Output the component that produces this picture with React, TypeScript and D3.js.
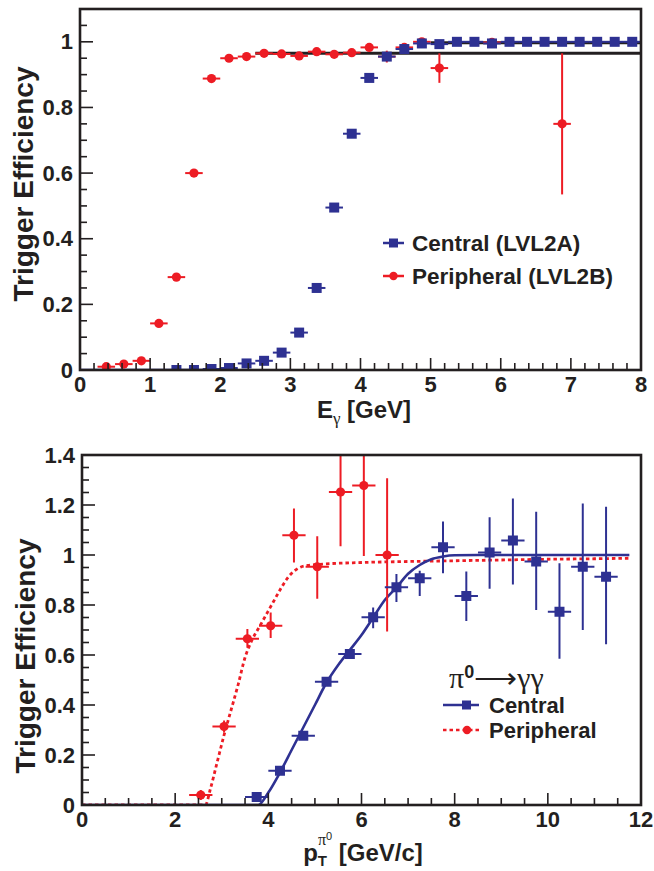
import React, { useEffect, useRef } from 'react';
import * as d3 from 'd3';

const BLUE = '#2e3192';
const RED = '#ed1c24';
const INK = '#231f20';
const SANS = '"Liberation Sans", Arial, Helvetica, sans-serif';
const SERIF = '"Liberation Serif", "Times New Roman", serif';

// ---- top panel: single photon trigger vs E_gamma ----
const topCentralE = [1.375, 1.625, 1.875, 2.125, 2.375, 2.625, 2.875, 3.125, 3.375, 3.625, 3.875, 4.125, 4.375, 4.625,
  4.875, 5.125, 5.375, 5.625, 5.875, 6.125, 6.375, 6.625, 6.875, 7.125, 7.375, 7.625, 7.875];
const topCentralEff = [0, 0, 0.003, 0.006, 0.02, 0.028, 0.053, 0.114, 0.25, 0.495, 0.72, 0.89, 0.955, 0.978,
  0.995, 0.993, 1, 1, 0.995, 1, 1, 1, 1, 1, 1, 1, 1];

const topPeriphE = [0.375, 0.625, 0.875, 1.125, 1.375, 1.625, 1.875, 2.125, 2.375, 2.625, 2.875, 3.125, 3.375, 3.625,
  3.875, 4.125, 4.375, 4.625, 4.875, 5.125, 5.875, 6.875];
const topPeriphEff = [0.01, 0.018, 0.028, 0.142, 0.283, 0.6, 0.888, 0.95, 0.955, 0.965, 0.963, 0.957, 0.97, 0.962,
  0.967, 0.983, 0.955, 0.983, 1.0, 0.92, 0.998, 0.75];
const topPeriphErr = [0.003, 0.004, 0.005, 0.006, 0.008, 0.01, 0.008, 0.005, 0.005, 0.005, 0.005, 0.005, 0.005, 0.006,
  0.007, 0.008, 0.018, 0.01, 0.01, 0.045, 0.01, 0.215];

// plateau fits [from, to, level]
const topPlateaus: [number, number, number][] = [[2.5, 8, 0.965], [5.0, 8, 0.997]];
const topCentralZero = [0, 2.25];
const topBinHalf = 0.125;

// ---- bottom panel: pi0 -> gamma gamma vs pT ----
const botCentralPt = [3.75, 4.25, 4.75, 5.25, 5.75, 6.25, 6.75, 7.25, 7.75, 8.25, 8.75, 9.25, 9.75, 10.25, 10.75, 11.25];
const botCentralEff = [0.032, 0.137, 0.277, 0.493, 0.604, 0.751, 0.871, 0.907, 1.031, 0.836, 1.01, 1.058, 0.974, 0.773, 0.953, 0.913];
const botCentralLo = [0.018, 0.125, 0.262, 0.478, 0.588, 0.707, 0.812, 0.836, 0.927, 0.736, 0.865, 0.882, 0.78, 0.585, 0.7, 0.643];
const botCentralHi = [0.046, 0.149, 0.292, 0.508, 0.62, 0.79, 0.924, 0.937, 1.134, 0.934, 1.151, 1.226, 1.173, 0.967, 1.206, 1.193];

const botPeriphPt = [2.55, 3.05, 3.55, 4.05, 4.55, 5.05, 5.55, 6.05, 6.55];
const botPeriphEff = [0.04, 0.314, 0.665, 0.717, 1.079, 0.953, 1.252, 1.278, 1.0];
const botPeriphLo = [0.02, 0.29, 0.629, 0.668, 0.97, 0.825, 1.035, 0.996, 0.694];
const botPeriphHi = [0.06, 0.338, 0.704, 0.77, 1.186, 1.075, 1.5, 1.5, 1.307];
const botBinHalf = 0.25;

// fit curves
const fitCentralPt = [0, 3.78, 4.0, 4.25, 4.5, 4.75, 5.0, 5.25, 5.5, 5.75, 6.0, 6.25, 6.5, 6.75, 7.0, 7.25, 7.5, 7.75, 8.0, 8.5, 11.75];
const fitCentralEff = [0, 0, 0.05, 0.13, 0.22, 0.31, 0.4, 0.49, 0.56, 0.62, 0.68, 0.75, 0.82, 0.87, 0.925, 0.96, 0.983, 0.994, 0.999, 1.0, 1.0];
const fitPeriphPt = [0, 2.65, 2.75, 2.9, 3.05, 3.2, 3.35, 3.5, 3.65, 3.8, 3.95, 4.1, 4.25, 4.4, 4.55, 4.7, 4.85, 5.05, 6, 7, 8, 9, 10, 11, 11.75];
const fitPeriphEff = [0, 0, 0.06, 0.17, 0.28, 0.38, 0.48, 0.59, 0.66, 0.71, 0.76, 0.81, 0.86, 0.905, 0.935, 0.952, 0.958, 0.962, 0.97, 0.974, 0.977, 0.98, 0.983, 0.985, 0.987];

type Sel = d3.Selection<any, unknown, null, undefined>;

function drawAxes(g: Sel, x: d3.ScaleLinear<number, number>, y: d3.ScaleLinear<number, number>,
  xMajor: number, xMinor: number, yMajor: number, yMinor: number) {
  const [x0, x1] = x.domain();
  const [y0, y1] = y.domain();
  const eps = 1e-6;
  const bottom = y.range()[0];
  const left = x.range()[0];
  const fmt = (v: number) => String(+v.toFixed(2));

  // y ticks
  d3.range(y0, y1 + eps, yMinor).forEach(v => {
    const major = Math.abs(v / yMajor - Math.round(v / yMajor)) < 1e-4;
    g.append('line').attr('x1', left).attr('x2', left + (major ? 13 : 7))
      .attr('y1', y(v)).attr('y2', y(v)).attr('stroke', INK).attr('stroke-width', 1.6);
    if (major) {
      g.append('text').attr('x', left - 7).attr('y', y(v)).attr('text-anchor', 'end')
        .attr('dominant-baseline', 'central').attr('font-family', SANS).attr('font-weight', 'bold')
        .attr('font-size', 22).attr('fill', INK).text(fmt(v));
    }
  });
  // x ticks
  d3.range(x0, x1 + eps, xMinor).forEach(v => {
    const major = Math.abs(v / xMajor - Math.round(v / xMajor)) < 1e-4;
    g.append('line').attr('x1', x(v)).attr('x2', x(v))
      .attr('y1', bottom).attr('y2', bottom - (major ? 12 : 7)).attr('stroke', INK).attr('stroke-width', 1.6);
    if (major) {
      g.append('text').attr('x', x(v)).attr('y', bottom + 22).attr('text-anchor', 'middle')
        .attr('font-family', SANS).attr('font-weight', 'bold')
        .attr('font-size', 22).attr('fill', INK).text(fmt(v));
    }
  });
  // frame
  g.append('rect').attr('x', x.range()[0]).attr('y', y.range()[1])
    .attr('width', x.range()[1] - x.range()[0]).attr('height', y.range()[0] - y.range()[1])
    .attr('fill', 'none').attr('stroke', INK).attr('stroke-width', 2.6);
}

function errBars(g: Sel, x: d3.ScaleLinear<number, number>, y: d3.ScaleLinear<number, number>,
  xs: number[], ys: number[], lo: number[], hi: number[], half: number, color: string) {
  xs.forEach((v, i) => {
    g.append('line').attr('x1', x(v - half)).attr('x2', x(v + half)).attr('y1', y(ys[i])).attr('y2', y(ys[i]))
      .attr('stroke', color).attr('stroke-width', 2);
    g.append('line').attr('x1', x(v)).attr('x2', x(v)).attr('y1', y(lo[i])).attr('y2', y(hi[i]))
      .attr('stroke', color).attr('stroke-width', 2);
  });
}

function squares(g: Sel, x: d3.ScaleLinear<number, number>, y: d3.ScaleLinear<number, number>, xs: number[], ys: number[]) {
  xs.forEach((v, i) => {
    g.append('rect').attr('x', x(v) - 5).attr('y', y(ys[i]) - 5).attr('width', 10).attr('height', 10).attr('fill', BLUE);
  });
}

function circles(g: Sel, x: d3.ScaleLinear<number, number>, y: d3.ScaleLinear<number, number>, xs: number[], ys: number[]) {
  xs.forEach((v, i) => {
    g.append('circle').attr('cx', x(v)).attr('cy', y(ys[i])).attr('r', 4.6).attr('fill', RED);
  });
}

function yTitle(svg: Sel, cx: number, cy: number) {
  svg.append('text').attr('transform', `translate(${cx},${cy}) rotate(-90)`).attr('text-anchor', 'middle')
    .attr('dominant-baseline', 'central').attr('font-family', SANS).attr('font-weight', 'bold')
    .attr('font-size', 28).attr('fill', INK).text('Trigger Efficiency');
}

export default function App() {
  const svgRef = useRef<SVGSVGElement>(null);

  useEffect(() => {
    const svg = d3.select(svgRef.current) as unknown as Sel;
    svg.selectAll('*').remove();
    svg.append('rect').attr('width', 654).attr('height', 871).attr('fill', '#fff');
    const defs = svg.append('defs');

    // ===== top panel =====
    const xT = d3.scaleLinear().domain([0, 8]).range([80, 641]);
    const yT = d3.scaleLinear().domain([0, 1.1]).range([370, 9]);
    defs.append('clipPath').attr('id', 'clipTop').append('rect')
      .attr('x', 80).attr('y', 9).attr('width', 561).attr('height', 361);
    const top = svg.append('g');
    const topData = top.append('g').attr('clip-path', 'url(#clipTop)');

    topData.append('line').attr('x1', xT(topCentralZero[0])).attr('x2', xT(topCentralZero[1]))
      .attr('y1', yT(0)).attr('y2', yT(0)).attr('stroke', BLUE).attr('stroke-width', 2.5);
    topPlateaus.forEach(([a, b, lv]) => {
      topData.append('line').attr('x1', xT(a)).attr('x2', xT(b)).attr('y1', yT(lv)).attr('y2', yT(lv))
        .attr('stroke', INK).attr('stroke-width', 3);
    });
    errBars(topData, xT, yT, topPeriphE, topPeriphEff,
      topPeriphEff.map((v, i) => v - topPeriphErr[i]), topPeriphEff.map((v, i) => v + topPeriphErr[i]), topBinHalf, RED);
    circles(topData, xT, yT, topPeriphE, topPeriphEff);
    errBars(topData, xT, yT, topCentralE, topCentralEff, topCentralEff, topCentralEff, topBinHalf, BLUE);
    squares(topData, xT, yT, topCentralE, topCentralEff);
    drawAxes(top, xT, yT, 1, 0.2, 0.2, 0.05);

    yTitle(svg, 23, 184);
    const xt1 = svg.append('text').attr('x', 364).attr('y', 418).attr('text-anchor', 'middle')
      .attr('font-family', SANS).attr('font-weight', 'bold').attr('font-size', 24).attr('fill', INK);
    xt1.append('tspan').text('E');
    xt1.append('tspan').attr('dy', 6).attr('font-size', 17).attr('font-weight', 'normal').attr('font-family', SERIF).text('γ');
    xt1.append('tspan').attr('dy', -6).text(' [GeV]');

    // top legend
    const legT = [
      { label: 'Central (LVL2A)', color: BLUE, y: 243, sq: true },
      { label: 'Peripheral (LVL2B)', color: RED, y: 276, sq: false },
    ];
    legT.forEach(d => {
      svg.append('line').attr('x1', 383).attr('x2', 404).attr('y1', d.y).attr('y2', d.y)
        .attr('stroke', d.color).attr('stroke-width', 2.5);
      if (d.sq) svg.append('rect').attr('x', 389).attr('y', d.y - 4.5).attr('width', 9).attr('height', 9).attr('fill', d.color);
      else svg.append('circle').attr('cx', 393.5).attr('cy', d.y).attr('r', 4.2).attr('fill', d.color);
      svg.append('text').attr('x', 412).attr('y', d.y).attr('dominant-baseline', 'central')
        .attr('font-family', SANS).attr('font-weight', 'bold').attr('font-size', 22.5).attr('fill', INK).text(d.label);
    });

    // ===== bottom panel =====
    const xB = d3.scaleLinear().domain([0, 12]).range([82, 641]);
    const yB = d3.scaleLinear().domain([0, 1.4]).range([805, 455]);
    defs.append('clipPath').attr('id', 'clipBot').append('rect')
      .attr('x', 82).attr('y', 455).attr('width', 559).attr('height', 350);
    const bot = svg.append('g');
    const botData = bot.append('g').attr('clip-path', 'url(#clipBot)');

    const line = d3.line<number>().curve(d3.curveMonotoneX);
    botData.append('path')
      .attr('d', line.x(v => xB(v)).y((_, i) => yB(fitPeriphEff[i]))(fitPeriphPt))
      .attr('fill', 'none').attr('stroke', RED).attr('stroke-width', 2.8).attr('stroke-dasharray', '3.5,3');
    botData.append('path')
      .attr('d', line.x(v => xB(v)).y((_, i) => yB(fitCentralEff[i]))(fitCentralPt))
      .attr('fill', 'none').attr('stroke', BLUE).attr('stroke-width', 2.6);

    errBars(botData, xB, yB, botPeriphPt, botPeriphEff, botPeriphLo, botPeriphHi, botBinHalf, RED);
    circles(botData, xB, yB, botPeriphPt, botPeriphEff);
    errBars(botData, xB, yB, botCentralPt, botCentralEff, botCentralLo, botCentralHi, botBinHalf, BLUE);
    squares(botData, xB, yB, botCentralPt, botCentralEff);
    drawAxes(bot, xB, yB, 2, 0.5, 0.2, 0.05);

    yTitle(svg, 25, 656);
    const xt2 = svg.append('text').attr('x', 363).attr('y', 861).attr('text-anchor', 'middle')
      .attr('font-family', SANS).attr('font-weight', 'bold').attr('font-size', 24).attr('fill', INK);
    xt2.append('tspan').text('p');
    xt2.append('tspan').attr('dy', 5).attr('font-size', 15).text('T');
    xt2.append('tspan').attr('dx', -9).attr('dy', -21).attr('font-size', 16).attr('font-weight', 'normal')
      .attr('font-family', SERIF).text('π');
    xt2.append('tspan').attr('dy', -5).attr('font-size', 11).attr('font-weight', 'normal').text('0');
    xt2.append('tspan').attr('dy', 21).text(' [GeV/c]');

    // bottom legend
    const head = svg.append('text').attr('x', 449).attr('y', 688).attr('font-family', SERIF)
      .attr('font-size', 30).attr('fill', INK);
    head.append('tspan').text('π');
    head.append('tspan').attr('dy', -10).attr('font-size', 18).attr('font-family', SANS).attr('font-weight', 'bold').text('0');
    head.append('tspan').attr('dy', 10).text('⟶γγ');

    const legB = [
      { label: 'Central', color: BLUE, y: 705, sq: true },
      { label: 'Peripheral', color: RED, y: 730, sq: false },
    ];
    legB.forEach(d => {
      svg.append('line').attr('x1', 443).attr('x2', 479).attr('y1', d.y).attr('y2', d.y)
        .attr('stroke', d.color).attr('stroke-width', 2.6)
        .attr('stroke-dasharray', d.sq ? null : '3.5,3');
      if (d.sq) svg.append('rect').attr('x', 462).attr('y', d.y - 4.5).attr('width', 9).attr('height', 9).attr('fill', d.color);
      else svg.append('circle').attr('cx', 467).attr('cy', d.y).attr('r', 4.2).attr('fill', d.color);
      svg.append('text').attr('x', 489).attr('y', d.y).attr('dominant-baseline', 'central')
        .attr('font-family', SANS).attr('font-weight', 'bold').attr('font-size', 22).attr('fill', INK).text(d.label);
    });
  }, []);

  return (
    <svg ref={svgRef} width={654} height={871}
      style={{ position: 'absolute', left: 0, top: 0, display: 'block', background: '#fff' }} />
  );
}
